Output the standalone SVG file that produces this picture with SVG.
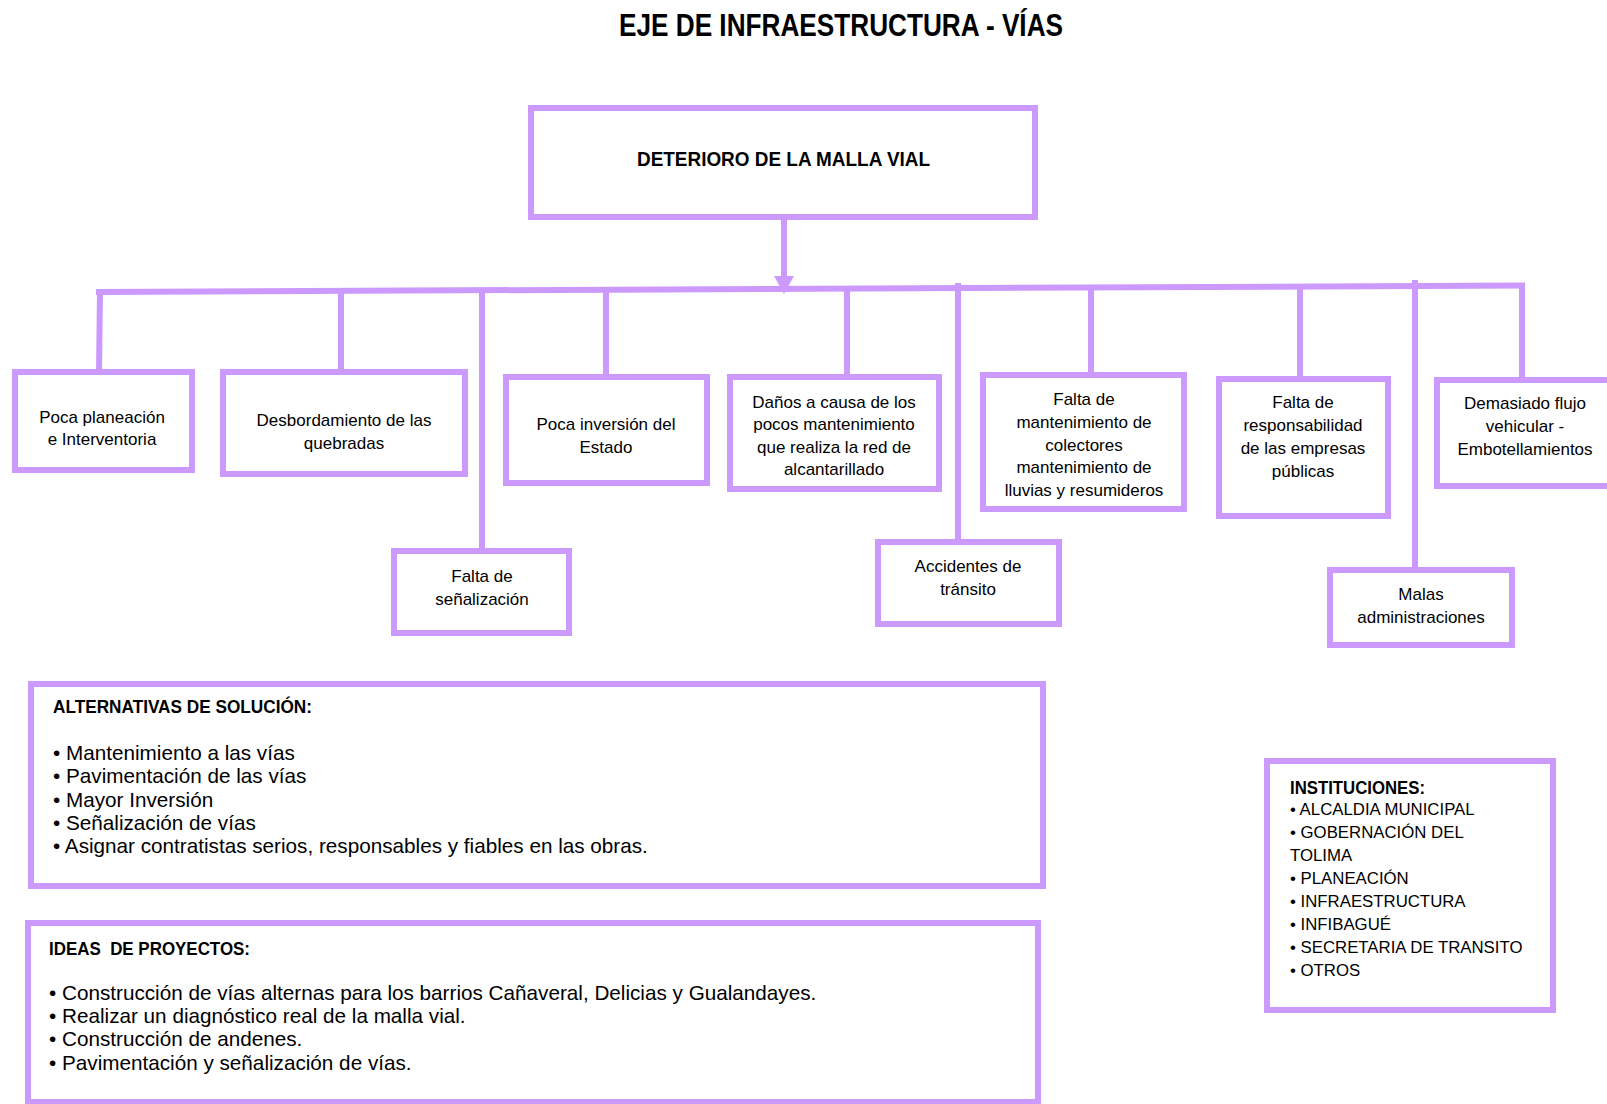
<svg xmlns="http://www.w3.org/2000/svg" width="1607" height="1104" viewBox="0 0 1607 1104">
<style>
.box{fill:#fff;stroke:#cc99ff;stroke-width:6}
.conn{fill:none;stroke:#cc99ff;stroke-width:6}
.t{font-family:"Liberation Sans",Arial,sans-serif;font-size:17px;fill:#000;text-anchor:middle}
.h{font-family:"Liberation Sans",Arial,sans-serif;font-weight:bold;fill:#000}
.l{font-family:"Liberation Sans",Arial,sans-serif;font-size:20.7px;fill:#000}
.i{font-family:"Liberation Sans",Arial,sans-serif;font-size:16.8px;fill:#000}
</style>
<rect width="1607" height="1104" fill="#fff"/>
<text id="title" class="h" x="619" y="36" font-size="31" textLength="444" lengthAdjust="spacingAndGlyphs">EJE DE INFRAESTRUCTURA - VÍAS</text>

<g id="connectors">
<line class="conn" x1="784" y1="218" x2="784" y2="278"/>
<polygon points="774,276 794,276 784,294" fill="#cc99ff"/>
<line class="conn" x1="96" y1="292" x2="1525" y2="285.5"/>
<line class="conn" x1="1522" y1="283" x2="1522" y2="380"/>
<line class="conn" x1="100" y1="290" x2="99" y2="372"/>
<line class="conn" x1="341" y1="290" x2="341" y2="372"/>
<line class="conn" x1="482" y1="290" x2="482" y2="551"/>
<line class="conn" x1="606" y1="290" x2="606" y2="377"/>
<line class="conn" x1="847" y1="289" x2="847" y2="377"/>
<line class="conn" x1="958" y1="283" x2="958" y2="542"/>
<line class="conn" x1="1091" y1="288" x2="1091" y2="375"/>
<line class="conn" x1="1300" y1="287" x2="1300" y2="379"/>
<line class="conn" x1="1415" y1="280" x2="1415" y2="570"/>
</g>

<g id="n0">
<rect class="box" x="531" y="108" width="504" height="109"/>
<text class="h" x="783.5" y="166" font-size="20" text-anchor="middle" textLength="293" lengthAdjust="spacingAndGlyphs">DETERIORO DE LA MALLA VIAL</text>
</g>

<g id="n1">
<rect class="box" x="15" y="372" width="177" height="98"/>
<text class="t"><tspan x="102" y="423">Poca planeación</tspan><tspan x="102" y="445">e Interventoria</tspan></text>
</g>
<g id="n2">
<rect class="box" x="223" y="372" width="242" height="102"/>
<text class="t"><tspan x="344" y="426">Desbordamiento de las</tspan><tspan x="344" y="449">quebradas</tspan></text>
</g>
<g id="n3">
<rect class="box" x="394" y="551" width="175" height="82"/>
<text class="t"><tspan x="482" y="582">Falta de</tspan><tspan x="482" y="605">señalización</tspan></text>
</g>
<g id="n4">
<rect class="box" x="506" y="377" width="201" height="106"/>
<text class="t"><tspan x="606" y="430">Poca inversión del</tspan><tspan x="606" y="453">Estado</tspan></text>
</g>
<g id="n5">
<rect class="box" x="730" y="377" width="209" height="112"/>
<text class="t"><tspan x="834" y="408">Daños a causa de los</tspan><tspan x="834" y="430">pocos mantenimiento</tspan><tspan x="834" y="453">que realiza la red de</tspan><tspan x="834" y="475">alcantarillado</tspan></text>
</g>
<g id="n6">
<rect class="box" x="878" y="542" width="181" height="82"/>
<text class="t"><tspan x="968" y="572">Accidentes de</tspan><tspan x="968" y="595">tránsito</tspan></text>
</g>
<g id="n7">
<rect class="box" x="983" y="375" width="201" height="134"/>
<text class="t"><tspan x="1084" y="405">Falta de</tspan><tspan x="1084" y="428">mantenimiento de</tspan><tspan x="1084" y="451">colectores</tspan><tspan x="1084" y="473">mantenimiento de</tspan><tspan x="1084" y="496">lluvias y resumideros</tspan></text>
</g>
<g id="n8">
<rect class="box" x="1219" y="379" width="169" height="137"/>
<text class="t"><tspan x="1303" y="408">Falta de</tspan><tspan x="1303" y="431">responsabilidad</tspan><tspan x="1303" y="454">de las empresas</tspan><tspan x="1303" y="477">públicas</tspan></text>
</g>
<g id="n9">
<rect class="box" x="1437" y="380" width="180" height="106"/>
<text class="t"><tspan x="1525" y="409">Demasiado flujo</tspan><tspan x="1525" y="432">vehicular -</tspan><tspan x="1525" y="455">Embotellamientos</tspan></text>
</g>
<g id="n10">
<rect class="box" x="1330" y="570" width="182" height="75"/>
<text class="t"><tspan x="1421" y="600">Malas</tspan><tspan x="1421" y="623">administraciones</tspan></text>
</g>

<g id="alternativas">
<rect class="box" x="31" y="684" width="1012" height="202"/>
<text class="h" x="53" y="713" font-size="18.5" textLength="259" lengthAdjust="spacingAndGlyphs">ALTERNATIVAS DE SOLUCIÓN:</text>
<text class="l">
<tspan x="53" y="760">• Mantenimiento a las vías</tspan>
<tspan x="53" y="783">• Pavimentación de las vías</tspan>
<tspan x="53" y="807">• Mayor Inversión</tspan>
<tspan x="53" y="830">• Señalización de vías</tspan>
<tspan x="53" y="853">• Asignar contratistas serios, responsables y fiables en las obras.</tspan>
</text>
</g>

<g id="ideas">
<rect class="box" x="28" y="923" width="1010" height="179"/>
<text class="h" x="49" y="955" font-size="18.5" textLength="201" lengthAdjust="spacingAndGlyphs">IDEAS&#160; DE PROYECTOS:</text>
<text class="l">
<tspan x="49" y="1000">• Construcción de vías alternas para los barrios Cañaveral, Delicias y Gualandayes.</tspan>
<tspan x="49" y="1023">• Realizar un diagnóstico real de la malla vial.</tspan>
<tspan x="49" y="1046">• Construcción de andenes.</tspan>
<tspan x="49" y="1070">• Pavimentación y señalización de vías.</tspan>
</text>
</g>

<g id="instituciones">
<rect class="box" x="1267" y="761" width="286" height="249"/>
<text class="h" x="1290" y="794" font-size="17.5" textLength="135" lengthAdjust="spacingAndGlyphs">INSTITUCIONES:</text>
<text class="i">
<tspan x="1290" y="815">• ALCALDIA MUNICIPAL</tspan>
<tspan x="1290" y="838">• GOBERNACIÓN DEL</tspan>
<tspan x="1290" y="861">TOLIMA</tspan>
<tspan x="1290" y="884">• PLANEACIÓN</tspan>
<tspan x="1290" y="907">• INFRAESTRUCTURA</tspan>
<tspan x="1290" y="930">• INFIBAGUÉ</tspan>
<tspan x="1290" y="953">• SECRETARIA DE TRANSITO</tspan>
<tspan x="1290" y="976">• OTROS</tspan>
</text>
</g>
</svg>
